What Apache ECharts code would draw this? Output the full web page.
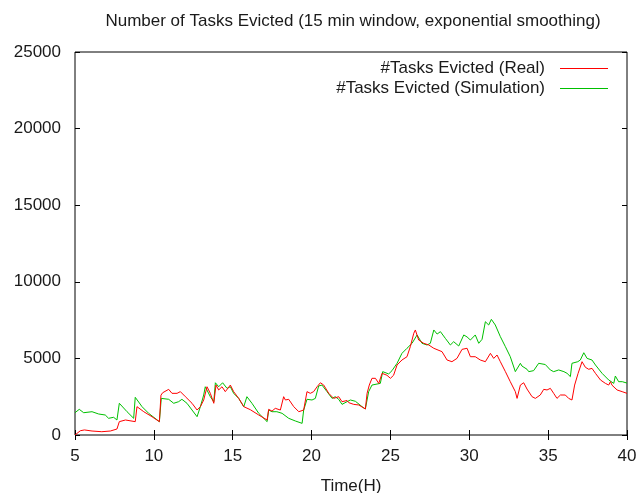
<!DOCTYPE html>
<html><head><meta charset="utf-8">
<script src="https://cdn.jsdelivr.net/npm/echarts@6/dist/echarts.min.js"></script>
<style>html,body{margin:0;padding:0;background:#fff}#c{width:636px;height:493px}</style>
</head><body><div id="c"></div>
<script>
var titleText = 'Number of Tasks Evicted (15 min window, exponential smoothing)';
var xName = 'Time(H)';
var seriesNames = ['#Tasks Evicted (Real)', '#Tasks Evicted (Simulation)'];
var seriesColors = ['#ff0000', '#00c000'];
var xTicks = [5, 10, 15, 20, 25, 30, 35, 40];
var yTicks = [0, 5000, 10000, 15000, 20000, 25000];

var realT = [5.0,5.34,5.6,6.08,6.7,7.24,7.66,7.81,8.2,8.82,8.93,9.36,9.88,10.35,10.45,10.56,10.94,11.15,11.47,11.68,12.0,12.42,12.74,12.95,13.16,13.37,13.58,13.8,13.94,14.11,14.32,14.53,14.85,15.06,15.38,15.7,16.12,16.65,17.18,17.28,17.49,17.7,18.02,18.23,18.34,18.55,18.87,19.19,19.5,19.71,19.92,20.13,20.35,20.56,20.77,21.09,21.4,21.72,21.93,22.25,22.36,22.67,22.99,23.41,23.52,23.66,23.83,24.05,24.26,24.47,24.78,25.0,25.2,25.42,25.73,26.05,26.26,26.48,26.58,26.79,27.11,27.43,27.75,27.85,28.27,28.59,28.9,29.22,29.54,29.86,30.07,30.38,30.7,31.02,31.34,31.55,31.76,31.97,32.29,32.6,32.92,33.03,33.24,33.45,33.66,33.98,34.19,34.5,34.72,34.93,35.14,35.35,35.56,35.78,36.09,36.3,36.51,36.68,36.9,37.15,37.36,37.57,37.78,38.0,38.32,38.63,38.84,38.95,39.05,39.37,39.69,40.0];
var realV = [0,280,330,260,215,260,390,870,980,870,1850,1520,1195,870,2600,2760,2980,2720,2720,2830,2500,2070,1630,1850,2285,3150,2720,2070,3260,2940,3150,2830,3260,2830,2390,1850,1650,1305,980,1675,1560,1740,1630,2500,2285,2330,1850,1520,1630,2830,2720,2830,3150,3410,3260,2720,2390,2500,2175,2250,2110,2000,1960,1700,2720,3260,3700,3700,3370,4025,3900,3700,3900,4570,4895,5110,5765,6640,6855,6200,5985,5875,5660,5550,5440,4895,4785,5000,5590,5660,5110,5110,4895,4785,5330,5000,5220,4785,4135,3480,2830,2390,3260,3410,3000,2500,2390,2610,2980,2940,3045,2720,2390,2610,2610,2390,2285,3260,4025,4785,4420,4290,4350,4025,3590,3370,3260,3480,3250,2940,2830,2720];

var simT = [5.0,5.27,5.55,6.08,6.5,6.92,7.13,7.45,7.66,7.81,8.3,8.72,8.82,9.25,9.67,10.35,10.47,10.94,11.26,11.57,11.78,12.1,12.42,12.74,12.95,13.16,13.26,13.58,13.8,13.9,14.11,14.36,14.64,14.85,15.06,15.38,15.7,15.9,16.22,16.65,17.18,17.28,17.49,17.8,18.13,18.55,18.97,19.4,19.5,19.71,20.03,20.24,20.45,20.66,20.98,21.3,21.5,21.72,21.93,22.25,22.46,22.78,23.2,23.41,23.62,23.83,24.36,24.51,24.89,25.1,25.42,25.73,26.05,26.37,26.69,27.0,27.32,27.53,27.75,27.96,28.17,28.48,28.8,29.01,29.33,29.65,29.86,30.07,30.38,30.6,30.81,31.02,31.23,31.4,31.65,31.97,32.29,32.6,32.92,33.24,33.34,33.66,33.77,34.08,34.4,34.82,35.14,35.35,35.67,36.0,36.2,36.41,36.51,36.88,37.04,37.26,37.47,37.78,38.0,38.42,38.84,39.16,39.26,39.47,39.7,40.0];
var simV = [1455,1675,1455,1520,1370,1305,1090,1155,980,2070,1520,1090,2460,1850,1415,870,2390,2330,2070,2175,2330,2070,1630,1195,1850,2610,3150,2500,2175,3410,3150,3410,3045,3150,2720,2390,1850,2500,2070,1415,870,1630,1520,1520,1415,1090,915,760,1630,2330,2285,2390,3200,3260,2830,2390,2500,2330,2000,2175,2285,2200,1850,1700,2830,3260,3370,4135,3985,4200,4680,5330,5660,5985,6530,5985,5875,5985,6855,6590,6745,6310,5875,6090,5810,6530,6400,6200,6530,5985,6245,7395,7180,7550,7180,6420,5765,5110,4135,4680,4500,4290,4135,4200,4680,4600,4245,4135,4245,4135,4025,3810,4680,4785,4895,5370,5000,4895,4570,4025,3590,3370,3850,3480,3480,3390];

function pairs(t, v) { return t.map(function (x, i) { return [x, v[i]]; }); }

var FONT = 'Liberation Sans';
var FS = 17;
var TXT = '#1a1a1a';
var chart = echarts.init(document.getElementById('c'), null, {renderer: 'canvas'});
var xMin = xTicks[0], xMax = xTicks[xTicks.length - 1];
var yMin = yTicks[0], yMax = yTicks[yTicks.length - 1];
var tickStyle = {show: true, inside: true, length: 5, lineStyle: {color: '#000', width: 1}};
function legendFor(i, top) {
  return {data: [{name: seriesNames[i], icon: 'rect', itemStyle: {color: seriesColors[i], borderWidth: 0}}],
    right: 28, top: top, padding: 0, align: 'right', itemWidth: 48, itemHeight: 1,
    textStyle: {fontFamily: FONT, fontSize: FS, color: TXT, padding: [0, 10, 0, 0]}};
}
chart.setOption({
  animation: false,
  backgroundColor: '#fff',
  title: {
    text: titleText, left: 348, top: 8, textAlign: 'center',
    textStyle: {fontFamily: FONT, fontSize: FS, fontWeight: 'normal', color: TXT}
  },
  legend: [legendFor(0, 60), legendFor(1, 80)],
  grid: {left: 75, right: 9, top: 52, bottom: 58, show: true, borderColor: '#000', borderWidth: 1,
    containLabel: false, outerBoundsMode: 'none'},
  xAxis: [
    {type: 'value', min: xMin, max: xMax, interval: 5, position: 'bottom',
     name: xName, nameLocation: 'middle', nameGap: 43,
     nameTextStyle: {fontFamily: FONT, fontSize: FS, color: TXT},
     axisLine: {show: false}, splitLine: {show: false}, axisTick: tickStyle,
     axisLabel: {fontFamily: FONT, fontSize: FS, color: TXT, margin: 13}},
    {type: 'value', min: xMin, max: xMax, interval: 5, position: 'top',
     axisLine: {show: false}, splitLine: {show: false}, axisTick: tickStyle, axisLabel: {show: false}}
  ],
  yAxis: [
    {type: 'value', min: yMin, max: yMax, interval: 5000, position: 'left',
     axisLine: {show: false}, splitLine: {show: false}, axisTick: tickStyle,
     axisLabel: {fontFamily: FONT, fontSize: FS, color: TXT, margin: 14, formatter: function (v) { return String(v); }}},
    {type: 'value', min: yMin, max: yMax, interval: 5000, position: 'right',
     axisLine: {show: false}, splitLine: {show: false}, axisTick: tickStyle, axisLabel: {show: false}}
  ],
  series: [
    {name: seriesNames[0], type: 'line', data: pairs(realT, realV), showSymbol: false, symbol: 'none',
     lineStyle: {color: seriesColors[0], width: 1}, itemStyle: {color: seriesColors[0]}, z: 3},
    {name: seriesNames[1], type: 'line', data: pairs(simT, simV), showSymbol: false, symbol: 'none',
     lineStyle: {color: seriesColors[1], width: 1}, itemStyle: {color: seriesColors[1]}, z: 2}
  ]
});
</script></body></html>
